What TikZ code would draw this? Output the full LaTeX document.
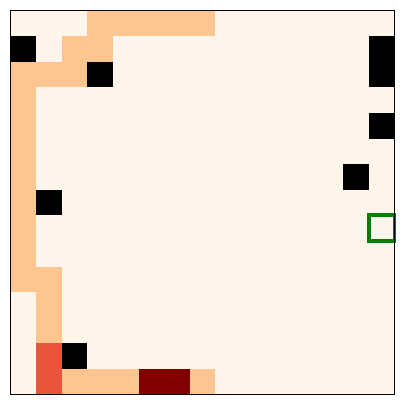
\documentclass[tikz,border=0pt]{standalone}
\definecolor{bgc}{HTML}{FFF5EB}
\definecolor{orc}{HTML}{FDC590}
\definecolor{rdc}{HTML}{E8553B}
\definecolor{drc}{HTML}{800000}
\definecolor{grc}{HTML}{008000}
\begin{document}
\begin{tikzpicture}[x=1pt,y=-1pt,
  frame/.style={draw=black,line width=1pt},
  goal/.style={draw=grc,line width=3.8pt}]
\useasboundingbox (0,0) rectangle (405,405);
\def\ox{10.5}\def\s{25.6}
\fill[white] (0,0) rectangle (405,405);
\fill[bgc] (\ox,\ox) rectangle (394.5,394.5);
% orange cells (col,row)
\foreach \c/\r in {3/0,4/0,5/0,6/0,7/0,2/1,3/1,0/2,1/2,2/2,0/3,0/4,0/5,0/6,0/7,0/8,0/9,0/10,1/10,1/11,1/12,2/14,3/14,4/14,7/14}
  \fill[orc] ({\ox+\c*\s},{\ox+\r*\s}) rectangle ++(\s,\s);
% red cells
\foreach \c/\r in {1/13,1/14}
  \fill[rdc] ({\ox+\c*\s},{\ox+\r*\s}) rectangle ++(\s,\s);
% dark red cells
\foreach \c/\r in {5/14,6/14}
  \fill[drc] ({\ox+\c*\s},{\ox+\r*\s}) rectangle ++(\s,\s);
% black cells
\foreach \c/\r in {0/1,14/1,3/2,14/2,14/4,13/6,1/7,2/13}
  \fill[black] ({\ox+\c*\s},{\ox+\r*\s}) rectangle ++(\s,\s);
% goal outline
\draw[goal] ({\ox+14*\s},{\ox+8*\s}) rectangle ++(\s,\s);
\draw[frame] (\ox,\ox) rectangle (394.5,394.5);
\end{tikzpicture}
\end{document}
